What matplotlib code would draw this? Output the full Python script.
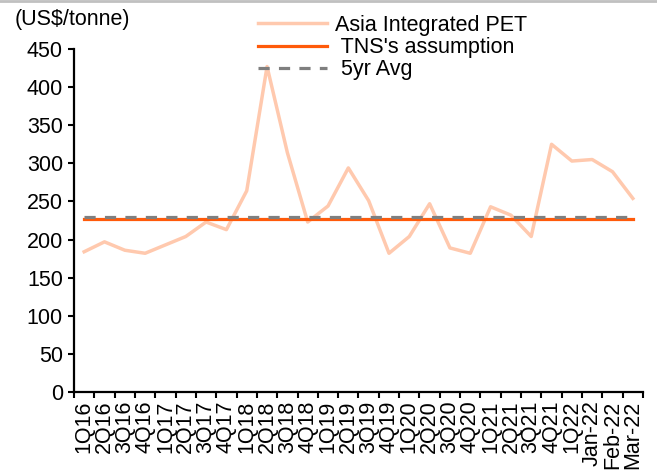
import matplotlib
matplotlib.use("Agg")
import matplotlib.pyplot as plt
from matplotlib.lines import Line2D
import numpy as np

plt.rcParams['font.family'] = ['Liberation Sans', 'DejaVu Sans']

categories = ["1Q16", "2Q16", "3Q16", "4Q16", "1Q17", "2Q17", "3Q17", "4Q17",
              "1Q18", "2Q18", "3Q18", "4Q18", "1Q19", "2Q19", "3Q19", "4Q19",
              "1Q20", "2Q20", "3Q20", "4Q20", "1Q21", "2Q21", "3Q21", "4Q21",
              "1Q22", "Jan-22", "Feb-22", "Mar-22"]
pet = [184, 197, 186, 182, 193, 204, 223, 213,
       264, 427, 314, 223, 244, 294, 251, 182,
       204, 247, 189, 182, 243, 232, 204, 325,
       303, 305, 289, 254]
tns_assumption = 227
avg_5yr = 230
y_ticks = [0, 50, 100, 150, 200, 250, 300, 350, 400, 450]

FS = 15.5

fig = plt.figure(figsize=(6.57, 4.73), dpi=100)
ax = fig.add_axes([74/657, 1-392/473, (643-74)/657, (392-49)/473])

x = np.arange(len(categories))
ax.plot(x, pet, color='#FFC9AE', lw=2.5, label='Asia Integrated PET')
ax.plot(x, [tns_assumption]*len(x), color='#FF5A0A', lw=2.3, label=" TNS's assumption")
ax.plot(x, [avg_5yr]*len(x), color='#7F7F7F', lw=2.3, dashes=(3.5, 2.9), label=' 5yr Avg')

ax.set_xlim(-0.5, len(categories)-0.5)
ax.set_ylim(0, 450)
ax.set_yticks(y_ticks)
ax.set_xticks(x)
ax.set_xticklabels(categories, rotation=90, fontsize=FS)
ax.set_xticks(np.arange(-0.5, len(categories), 1.0), minor=True)
ax.tick_params(axis='x', which='major', length=0, pad=6)
ax.tick_params(axis='x', which='minor', length=4.5, width=1.5, direction='out')
ax.tick_params(axis='y', length=4, width=1.5, direction='out', labelsize=FS, pad=4)
for s in ['top', 'right']:
    ax.spines[s].set_visible(False)
for s in ['left', 'bottom']:
    ax.spines[s].set_linewidth(1.6)

fig.text(15/657, 1-20/473, r"(US\$/tonne)", fontsize=FS, va='center', ha='left')

leg = fig.legend(loc='upper left', bbox_to_anchor=(258/657, 1-15/473), frameon=False,
                 fontsize=FS, handlelength=3.2, handletextpad=0.37, labelspacing=0.05,
                 borderpad=0, borderaxespad=0)

fig.add_artist(Line2D([0, 1], [1-1/473, 1-1/473], transform=fig.transFigure,
                      color='#C0C0C0', lw=2))

fig.savefig('out.png', dpi=100)
